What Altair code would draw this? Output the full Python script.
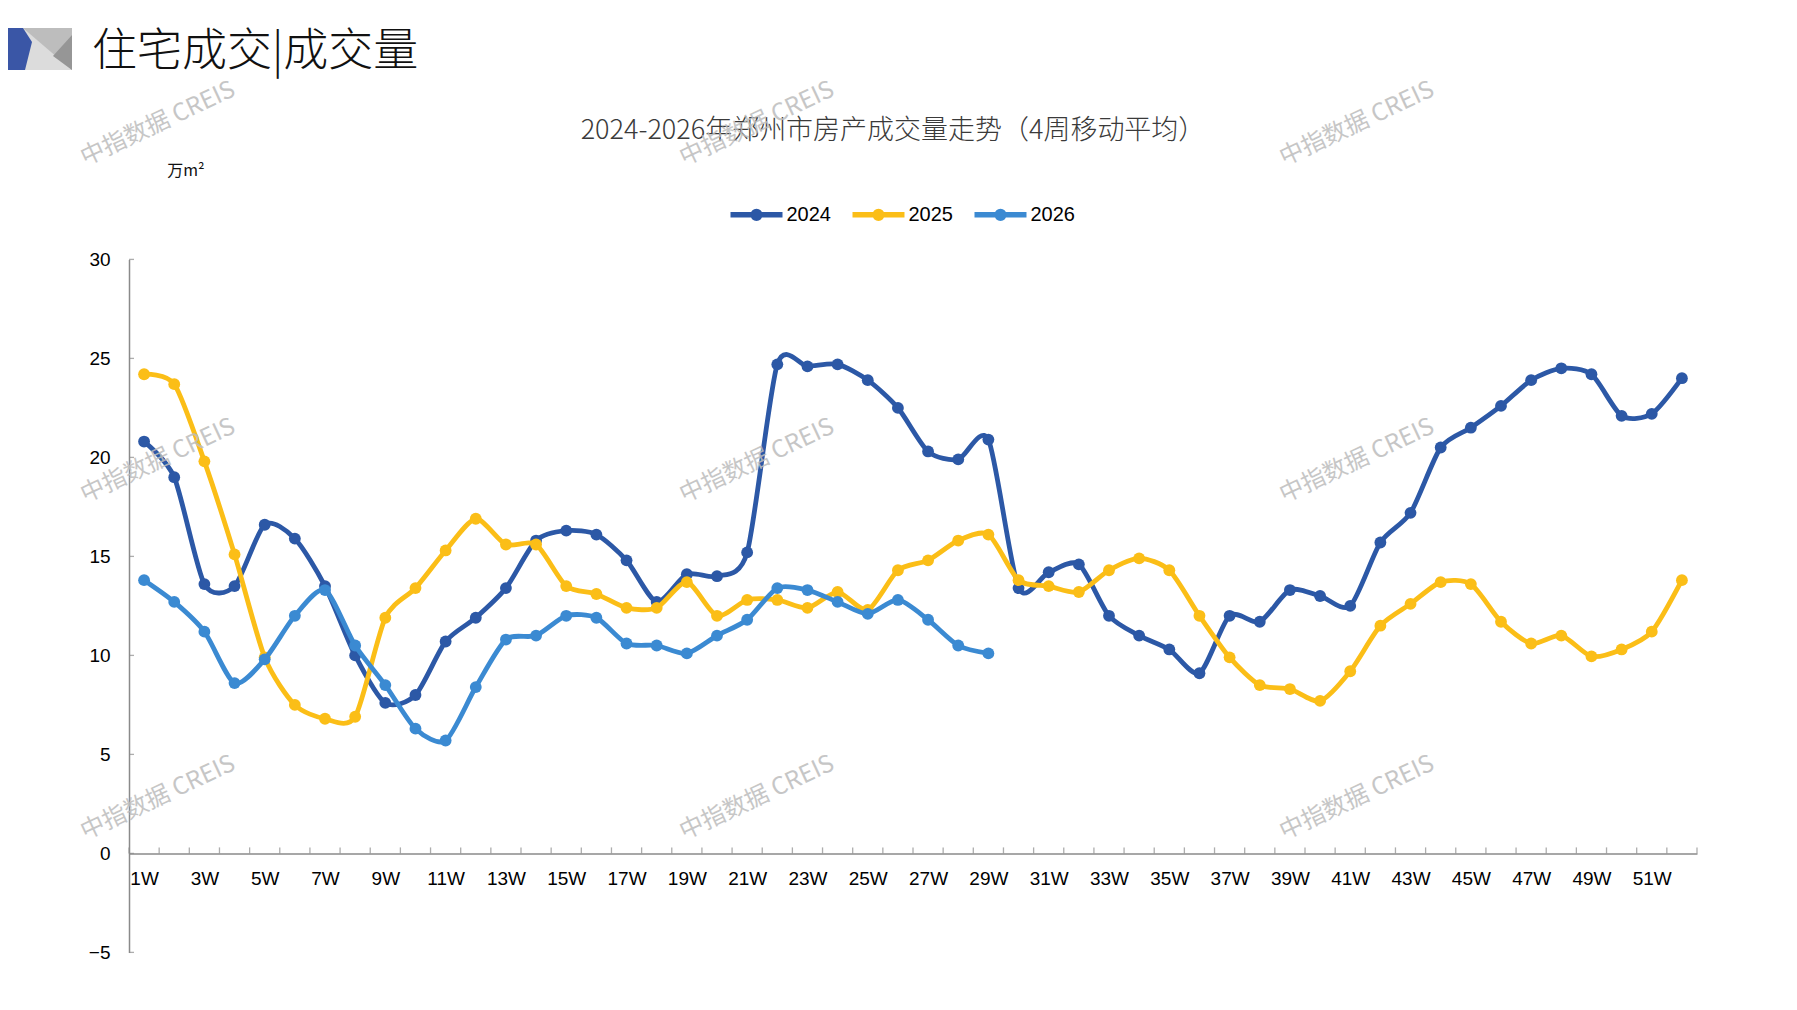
import altair as alt
import pandas as pd

# ---------------- data ----------------
weeks = [f"{i}W" for i in range(1, 53)]
series = ["2024", "2025", "2026"]
colors = ["#2C58A6", "#FBBE17", "#3B8AD2"]

v2024 = [20.8, 19.0, 13.6, 13.5, 16.6, 15.9, 13.5, 10.0, 7.6, 8.0,
         10.7, 11.9, 13.4, 15.8, 16.3, 16.1, 14.8, 12.7, 14.1, 14.0,
         15.2, 24.7, 24.6, 24.7, 23.9, 22.5, 20.3, 19.9, 20.9, 13.4,
         14.2, 14.6, 12.0, 11.0, 10.3, 9.1, 12.0, 11.7, 13.3, 13.0,
         12.5, 15.7, 17.2, 20.5, 21.5, 22.6, 23.9, 24.5, 24.2, 22.1,
         22.2, 24.0]
v2025 = [24.2, 23.7, 19.8, 15.1, 9.9, 7.5, 6.8, 6.9, 11.9, 13.4,
         15.3, 16.9, 15.6, 15.6, 13.5, 13.1, 12.4, 12.4, 13.7, 12.0,
         12.8, 12.8, 12.4, 13.2, 12.3, 14.3, 14.8, 15.8, 16.1, 13.8,
         13.5, 13.2, 14.3, 14.9, 14.3, 12.0, 9.9, 8.5, 8.3, 7.7,
         9.2, 11.5, 12.6, 13.7, 13.6, 11.7, 10.6, 11.0, 9.95, 10.3,
         11.2, 13.8]
v2026 = [13.8, 12.7, 11.2, 8.6, 9.8, 12.0, 13.3, 10.5, 8.5, 6.3,
         5.7, 8.4, 10.8, 11.0, 12.0, 11.9, 10.6, 10.5, 10.1, 11.0,
         11.8, 13.4, 13.3, 12.7, 12.1, 12.8, 11.8, 10.5, 10.1]

y_ticks = [-5, 0, 5, 10, 15, 20, 25, 30]

header_text = "住宅成交|成交量"
chart_title = "2024-2026年郑州市房产成交量走势（4周移动平均）"
unit_text = "万m²"
watermark_text = "中指数据 CREIS"

# ---------------- tables ----------------
rows = []
for name, vals in zip(series, [v2024, v2025, v2026]):
    for i, v in enumerate(vals):
        rows.append({"wk": i + 1, "week": weeks[i], "year": name, "value": v})
df = pd.DataFrame(rows)

week_idx = list(range(1, len(weeks) + 1))
label_weeks = week_idx[::2]
boundaries = [i - 0.5 for i in week_idx] + [week_idx[-1] + 0.5]
df_xt = pd.DataFrame({"b": boundaries})
df_yt = pd.DataFrame({"v": y_ticks})
one = pd.DataFrame({"t": [""]})

# ---------------- layout ----------------
W, H = 1568, 693
OX, OY = 129.0, 259.4          # plot origin on the page
PL, PT = OX - 8, OY - 8


def rx(X):
    return X - OX


def ry(Y):
    return Y - OY


AXIS_GRAY = "#8A8A8A"
LABEL_FONT = "Liberation Sans"
NARROW_FONT = "Liberation Sans Narrow, Arial Narrow, Liberation Sans"
CJK_FONT = "Noto Sans CJK SC"

x_scale = alt.Scale(domain=[0.5, len(weeks) + 0.5], nice=False, zero=False)
y_scale = alt.Scale(domain=[y_ticks[0], y_ticks[-1]], nice=False, zero=False)
color_scale = alt.Scale(domain=series, range=colors)

x_offset = -H * (0 - y_ticks[0]) / (y_ticks[-1] - y_ticks[0])

x_axis = alt.Axis(values=label_weeks, labelExpr="datum.value + 'W'", ticks=False, tickSize=0,
                  grid=False, domainColor=AXIS_GRAY, domainWidth=1.5, offset=x_offset,
                  labelPadding=16, labelFont=NARROW_FONT, labelFontSize=19, labelColor="#000000",
                  labelOverlap=False, labelFlush=False, labelBound=False, title=None)
y_axis = alt.Axis(values=y_ticks, ticks=False, tickSize=0, grid=False, domainColor=AXIS_GRAY,
                  domainWidth=1.5, labelPadding=19, labelFont=LABEL_FONT, labelFontSize=19,
                  labelColor="#000000", title=None)

LEG_PATH = "M-1,0L1,0M0.13,0A0.13,0.13,0,1,1,-0.13,0A0.13,0.13,0,1,1,0.13,0"
legend = alt.Legend(orient="none", legendX=rx(727.5), legendY=ry(185.5), direction="horizontal",
                    title=None, symbolType=LEG_PATH, symbolSize=2704, symbolStrokeWidth=5.5,
                    labelFontSize=20, labelFont=LABEL_FONT, labelColor="#000000",
                    labelOffset=1, columnPadding=10, padding=0)

base = alt.Chart(df)

layers = []
# axis ticks (inward / upward like the source)
layers.append(
    alt.Chart(df_xt).mark_tick(orient="vertical", size=6, thickness=1.3, color=AXIS_GRAY, yOffset=-3)
    .encode(x=alt.X("b:Q", scale=x_scale, axis=x_axis), y=alt.datum(0, scale=y_scale, axis=y_axis))
)
layers.append(
    alt.Chart(df_yt).mark_tick(orient="horizontal", size=5, thickness=1.3, color=AXIS_GRAY, xOffset=2.5)
    .encode(y=alt.Y("v:Q", scale=y_scale, axis=y_axis), x=alt.value(0))
)

for name in series:
    sub = base.transform_filter(alt.datum.year == name)
    layers.append(
        sub.mark_line(interpolate="cardinal", tension=0.25, strokeWidth=4.8, opacity=1)
        .encode(x=alt.X("wk:Q", scale=x_scale, axis=x_axis),
                y=alt.Y("value:Q", scale=y_scale, axis=y_axis),
                color=alt.Color("year:N", scale=color_scale, legend=legend))
    )
    layers.append(
        sub.mark_point(filled=True, size=140, opacity=1)
        .encode(x=alt.X("wk:Q", scale=x_scale, axis=x_axis),
                y=alt.Y("value:Q", scale=y_scale, axis=y_axis),
                color=alt.Color("year:N", scale=color_scale, legend=None))
    )

# header decoration (top-left)
DEC_SIZE = 72 * 72
dec_shapes = [
    ("M-0.361,-0.583L1,-0.583L1,0.583L-0.361,0.583Z", "#DCDCDC"),
    ("M-0.361,-0.583L1,-0.583L1,0.583Z", "#BDBDBD"),
    ("M1,-0.389L1,0.583L0.472,0.194Z", "#969696"),
    ("M-1,-0.583L-0.361,-0.583L-0.111,-0.194L-0.306,0.583L-1,0.583Z", "#3A56A6"),
]
for path, col in dec_shapes:
    layers.append(
        alt.Chart(one).mark_point(shape=path, filled=True, size=DEC_SIZE, color=col, opacity=1, strokeWidth=0)
        .encode(x=alt.value(rx(36)), y=alt.value(ry(49)))
    )

# texts
def text_layer(txt, X, Y, **kw):
    return alt.Chart(pd.DataFrame({"t": [txt]})).mark_text(**kw).encode(
        text="t:N", x=alt.value(rx(X)), y=alt.value(ry(Y)))


layers.append(text_layer(header_text, 92, 52, align="left", baseline="middle", font=CJK_FONT,
                         fontSize=45, fontWeight=300, color="#111111"))
layers.append(text_layer(chart_title, 893, 131, align="center", baseline="middle", font=CJK_FONT,
                         fontSize=27, fontWeight=300, color="#3A3A3A"))
layers.append(text_layer(unit_text, 186, 171, align="center", baseline="middle", font=CJK_FONT,
                         fontSize=16, color="#111111"))

wm_x = [158, 757, 1357]
wm_y = [124, 461, 798]
for yy in wm_y:
    for xx in wm_x:
        layers.append(text_layer(watermark_text, xx, yy, align="center", baseline="middle",
                                 font=CJK_FONT, fontSize=24, angle=335, color="#BDBDBD", opacity=0.85))

chart = alt.layer(*layers).properties(
    width=W, height=H,
    padding={"left": PL, "top": PT, "right": 1781 - 16 - PL - W, "bottom": 30},
    autosize=alt.AutoSizeParams(type="none"),
    background="#FFFFFF",
).configure_view(stroke=None)

chart.save("out.html", embed_options={"renderer": "svg", "actions": False})
